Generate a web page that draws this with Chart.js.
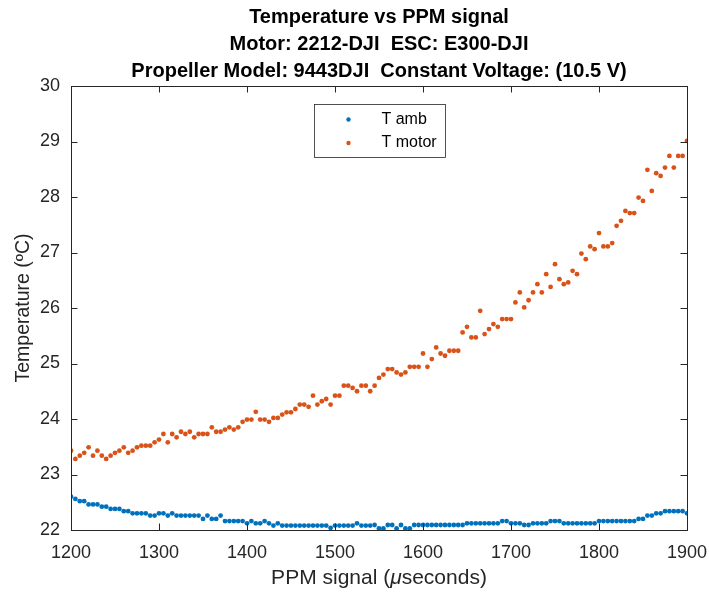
<!DOCTYPE html>
<html>
<head>
<meta charset="utf-8">
<script src="https://cdn.jsdelivr.net/npm/chart.js@4.4.1/dist/chart.umd.min.js"></script>
<style>
  body { margin: 0; background: #fff; }
  #wrap { width: 709px; height: 596px; }
</style>
</head>
<body>
<div id="wrap"><canvas id="myChart"></canvas></div>
<script>
// PPM signal (microseconds)
var ppm = [
    1200, 1205, 1210, 1215, 1220, 1225, 1230, 1235, 1240, 1245,
    1250, 1255, 1260, 1265, 1270, 1275, 1280, 1285, 1290, 1295,
    1300, 1305, 1310, 1315, 1320, 1325, 1330, 1335, 1340, 1345,
    1350, 1355, 1360, 1365, 1370, 1375, 1380, 1385, 1390, 1395,
    1400, 1405, 1410, 1415, 1420, 1425, 1430, 1435, 1440, 1445,
    1450, 1455, 1460, 1465, 1470, 1475, 1480, 1485, 1490, 1495,
    1500, 1505, 1510, 1515, 1520, 1525, 1530, 1535, 1540, 1545,
    1550, 1555, 1560, 1565, 1570, 1575, 1580, 1585, 1590, 1595,
    1600, 1605, 1610, 1615, 1620, 1625, 1630, 1635, 1640, 1645,
    1650, 1655, 1660, 1665, 1670, 1675, 1680, 1685, 1690, 1695,
    1700, 1705, 1710, 1715, 1720, 1725, 1730, 1735, 1740, 1745,
    1750, 1755, 1760, 1765, 1770, 1775, 1780, 1785, 1790, 1795,
    1800, 1805, 1810, 1815, 1820, 1825, 1830, 1835, 1840, 1845,
    1850, 1855, 1860, 1865, 1870, 1875, 1880, 1885, 1890, 1895,
    1900
];

var tAmb = [
    22.60, 22.56, 22.52, 22.52, 22.46, 22.46, 22.46, 22.42, 22.42, 22.38,
    22.38, 22.38, 22.34, 22.34, 22.30, 22.30, 22.30, 22.30, 22.26, 22.26,
    22.30, 22.30, 22.26, 22.30, 22.26, 22.26, 22.26, 22.26, 22.26, 22.26,
    22.20, 22.26, 22.20, 22.20, 22.26, 22.16, 22.16, 22.16, 22.16, 22.16,
    22.12, 22.16, 22.12, 22.12, 22.16, 22.12, 22.08, 22.12, 22.08, 22.08,
    22.08, 22.08, 22.08, 22.08, 22.08, 22.08, 22.08, 22.08, 22.08, 22.04,
    22.08, 22.08, 22.08, 22.08, 22.08, 22.12, 22.08, 22.08, 22.08, 22.09,
    22.03, 22.03, 22.09, 22.09, 22.03, 22.09, 22.03, 22.03, 22.09, 22.09,
    22.09, 22.09, 22.09, 22.09, 22.09, 22.09, 22.09, 22.09, 22.09, 22.09,
    22.12, 22.12, 22.12, 22.12, 22.12, 22.12, 22.12, 22.12, 22.16, 22.16,
    22.12, 22.12, 22.12, 22.09, 22.09, 22.12, 22.12, 22.12, 22.12, 22.16,
    22.16, 22.16, 22.12, 22.12, 22.12, 22.12, 22.12, 22.12, 22.12, 22.12,
    22.16, 22.16, 22.16, 22.16, 22.16, 22.16, 22.16, 22.16, 22.16, 22.20,
    22.20, 22.26, 22.26, 22.30, 22.30, 22.34, 22.34, 22.34, 22.34, 22.34,
    22.30
];

var tMotor = [
    23.43, 23.28, 23.34, 23.39, 23.49, 23.34, 23.43, 23.34, 23.28, 23.34,
    23.39, 23.43, 23.49, 23.39, 23.43, 23.49, 23.52, 23.52, 23.52, 23.58,
    23.63, 23.73, 23.58, 23.73, 23.67, 23.77, 23.73, 23.77, 23.67, 23.73,
    23.73, 23.73, 23.85, 23.77, 23.77, 23.81, 23.85, 23.81, 23.85, 23.95,
    23.99, 23.99, 24.13, 23.99, 23.99, 23.95, 24.02, 24.02, 24.08, 24.12,
    24.12, 24.18, 24.26, 24.26, 24.22, 24.42, 24.26, 24.32, 24.36, 24.26,
    24.42, 24.42, 24.60, 24.60, 24.56, 24.50, 24.60, 24.60, 24.50, 24.60,
    24.74, 24.80, 24.90, 24.90, 24.84, 24.80, 24.84, 24.94, 24.94, 24.94,
    25.18, 24.94, 25.08, 25.29, 25.18, 25.14, 25.23, 25.23, 25.23, 25.56,
    25.66, 25.47, 25.47, 25.95, 25.53, 25.62, 25.71, 25.66, 25.80, 25.80,
    25.80, 26.10, 26.28, 26.01, 26.14, 26.28, 26.43, 26.28, 26.61, 26.38,
    26.79, 26.52, 26.43, 26.46, 26.67, 26.61, 26.98, 26.88, 27.11, 27.06,
    27.35, 27.11, 27.11, 27.17, 27.48, 27.57, 27.75, 27.71, 27.71, 27.99,
    27.93, 28.49, 28.11, 28.43, 28.38, 28.53, 28.74, 28.53, 28.74, 28.74,
    29.01
];

var xTicks = [1200, 1300, 1400, 1500, 1600, 1700, 1800, 1900];
var yTicks = [22, 23, 24, 25, 26, 27, 28, 29, 30];

var FONT = '"Liberation Sans", Arial, Helvetica, sans-serif';
var AXIS_COLOR = '#262626';

function toPoints(ys) {
    return ppm.map(function(x, i) {
        return { x: x, y: ys[i] };
    });
}

// matlab style: full box, inward ticks on all sides, legend box inside axes
var matlabAxes = {
    id: 'matlabAxes',
    afterDraw: function(chart) {
        var ctx = chart.ctx;
        var a = chart.chartArea;
        var xs = chart.scales.x;
        var ys = chart.scales.y;
        var tl = 6.5;
        ctx.save();
        ctx.strokeStyle = AXIS_COLOR;
        ctx.lineWidth = 1;
        ctx.beginPath();
        xs.ticks.forEach(function(t) {
            var px = Math.round(xs.getPixelForValue(t.value)) + 0.5;
            ctx.moveTo(px, a.bottom);
            ctx.lineTo(px, a.bottom - tl);
            ctx.moveTo(px, a.top);
            ctx.lineTo(px, a.top + tl);
        });
        ys.ticks.forEach(function(t) {
            var py = Math.round(ys.getPixelForValue(t.value)) + 0.5;
            ctx.moveTo(a.left, py);
            ctx.lineTo(a.left + tl, py);
            ctx.moveTo(a.right, py);
            ctx.lineTo(a.right - tl, py);
        });
        ctx.stroke();
        ctx.strokeRect(Math.round(a.left) + 0.5, Math.round(a.top) + 0.5,
            Math.round(a.right - a.left), Math.round(a.bottom - a.top));

        // x label with italic mu (tex style)
        var parts = [
            { t: 'PPM signal (', f: '21px ' + FONT },
            { t: '\u03BC', f: 'italic 21px ' + FONT },
            { t: 'seconds)', f: '21px ' + FONT }
        ];
        var total = 0;
        parts.forEach(function(p) { ctx.font = p.f; p.w = ctx.measureText(p.t).width; total += p.w; });
        var tx = (a.left + a.right) / 2 - total / 2;
        ctx.fillStyle = AXIS_COLOR;
        ctx.textBaseline = 'middle';
        ctx.textAlign = 'left';
        parts.forEach(function(p) { ctx.font = p.f; ctx.fillText(p.t, tx, 578); tx += p.w; });

        // legend
        var lw = 131, lh = 53;
        var lx = Math.round((a.left + a.right) / 2 - lw / 2) + 0.5;
        var ly = Math.round(a.top + 18) + 0.5;
        ctx.fillStyle = '#fff';
        ctx.fillRect(lx, ly, lw, lh);
        ctx.lineWidth = 0.8;
        ctx.strokeRect(lx, ly, lw, lh);
        ctx.font = '16px ' + FONT;
        chart.data.datasets.forEach(function(ds, i) {
            var yy = ly + 15 + i * 23.5;
            ctx.fillStyle = ds.backgroundColor;
            ctx.beginPath();
            ctx.arc(lx + 34, yy, 2.2, 0, Math.PI * 2);
            ctx.fill();
            ctx.fillStyle = '#000';
            ctx.fillText(ds.label, lx + 67, yy);
        });
        ctx.restore();
    }
};

var ctx = document.getElementById('myChart').getContext('2d');
var myChart = new Chart(ctx, {
    type: 'scatter',
    data: {
        datasets: [
            {
                label: 'T amb',
                data: toPoints(tAmb),
                backgroundColor: '#0072BD',
                borderWidth: 0,
                pointRadius: 2.4
            },
            {
                label: 'T motor',
                data: toPoints(tMotor),
                backgroundColor: '#D95319',
                borderWidth: 0,
                pointRadius: 2.4
            }
        ]
    },
    options: {
        responsive: true,
        maintainAspectRatio: false,
        animation: false,
        layout: { padding: { left: 0, right: 22, top: 0, bottom: 0 } },
        plugins: {
            legend: { display: false },
            tooltip: { enabled: false },
            title: {
                display: true,
                fullSize: false,
                text: [
                    'Temperature vs PPM signal',
                    'Motor: 2212-DJI  ESC: E300-DJI',
                    'Propeller Model: 9443DJI  Constant Voltage: (10.5 V)'
                ],
                color: '#000',
                font: { family: FONT, size: 20, weight: 'bold', lineHeight: '27px' },
                padding: { top: 4, bottom: 1 }
            }
        },
        scales: {
            x: {
                type: 'linear',
                min: 1200,
                max: 1900,
                grid: { display: false, drawTicks: false },
                border: { display: false },
                afterBuildTicks: function(scale) {
                    scale.ticks = xTicks.map(function(v) { return { value: v }; });
                },
                afterFit: function(scale) {
                    scale.height = 66;
                    scale.paddingLeft = 0;
                    scale.paddingRight = 0;
                },
                ticks: {
                    color: AXIS_COLOR,
                    padding: 12,
                    maxRotation: 0,
                    font: { family: FONT, size: 18 },
                    callback: function(value) { return String(value); }
                },
                title: { display: false }
            },
            y: {
                min: 22,
                max: 30,
                grid: { display: false, drawTicks: false },
                border: { display: false },
                afterBuildTicks: function(scale) {
                    scale.ticks = yTicks.map(function(v) { return { value: v }; });
                },
                afterFit: function(scale) {
                    scale.width = 71;
                    scale.paddingTop = 0;
                    scale.paddingBottom = 0;
                },
                ticks: {
                    color: AXIS_COLOR,
                    padding: 11,
                    font: { family: FONT, size: 18 }
                },
                title: {
                    display: true,
                    text: 'Temperature (\u00BAC)',
                    color: AXIS_COLOR,
                    font: { family: FONT, size: 19.5 },
                    padding: { top: 12, bottom: 0 }
                }
            }
        }
    },
    plugins: [matlabAxes]
});
</script>
</body>
</html>
